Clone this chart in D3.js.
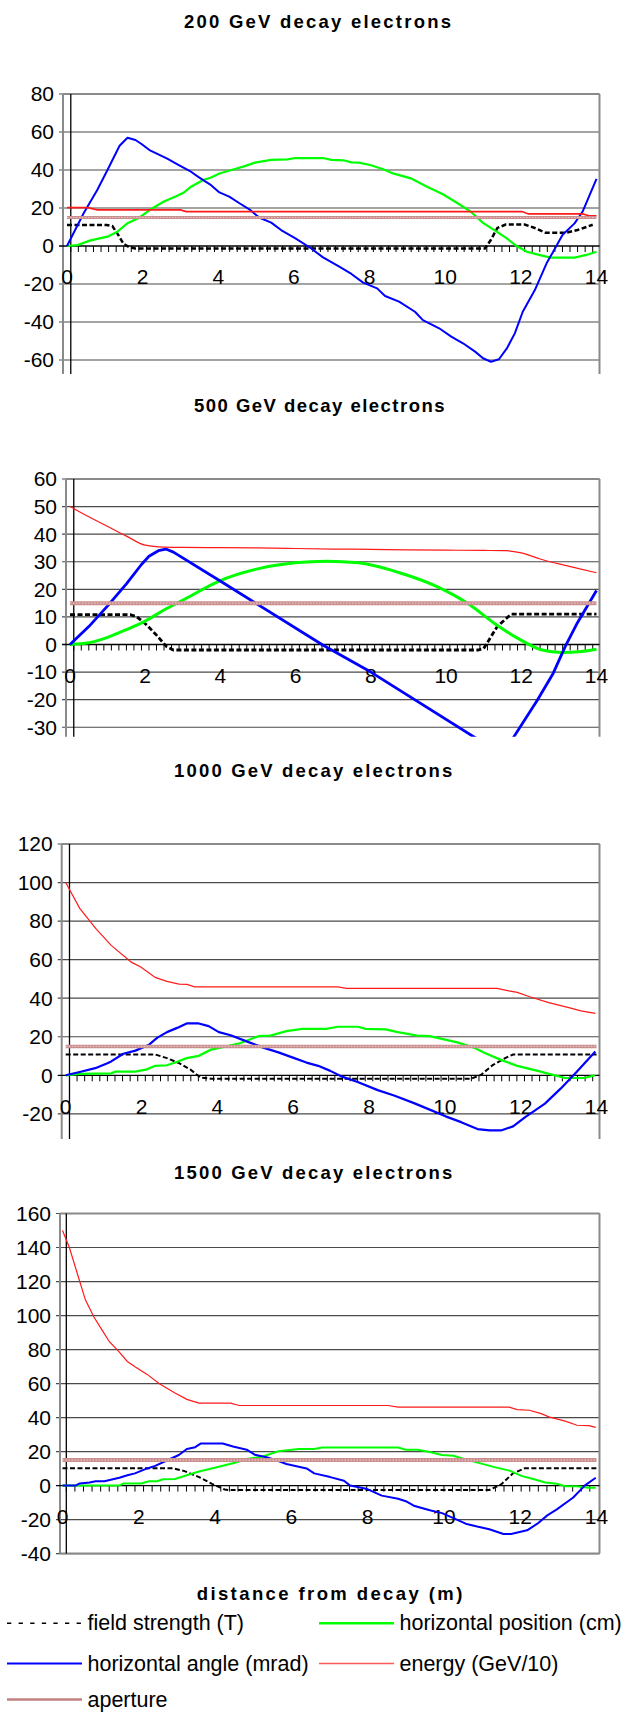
<!DOCTYPE html>
<html>
<head>
<meta charset="utf-8">
<script src="https://cdn.jsdelivr.net/npm/d3@7"></script>
<style>
body { margin: 0; background: #fff; overflow: hidden; }
svg { display: block; }
text { font-family: "Liberation Sans", Arial, sans-serif; fill: #000; }
</style>
</head>
<body>
<svg id="chart" width="624" height="1712"></svg>
<script>
// ---- data ----
const chartTitles = ["200 GeV decay electrons", "500 GeV decay electrons",
                     "1000 GeV decay electrons", "1500 GeV decay electrons"];
const xTitle = "distance from decay (m)";
const seriesNames = ["field strength (T)", "horizontal position (cm)",
                     "horizontal angle (mrad)", "energy (GeV/10)", "aperture"];
const xLabels = [0, 2, 4, 6, 8, 10, 12, 14];
const apertureLevel = 15;

const yTicks200 = [-60, -40, -20, 0, 20, 40, 60, 80];
const yTicks500 = [-30, -20, -10, 0, 10, 20, 30, 40, 50, 60];
const yTicks1000 = [-20, 0, 20, 40, 60, 80, 100, 120];
const yTicks1500 = [-40, -20, 0, 20, 40, 60, 80, 100, 120, 140, 160];

// 200 GeV
const field200 = [[0,11],[1.05,11],[1.2,10.5],[1.35,6],[1.5,1],[1.65,-0.6],[1.8,-1.3],[11.05,-1.3],[11.2,3],[11.38,9.5],[11.6,11.3],[12.1,11.3],[12.35,9.6],[12.65,7],[13.2,7],[13.5,8.4],[13.9,11.2]];
const position200 = [[0,0],[0.28,0.5],[0.6,2.8],[1.07,4.9],[1.33,7.5],[1.6,12],[1.92,15],[2.23,19.5],[2.55,23.3],[2.87,26],[3.08,28],[3.28,31.2],[3.6,34.7],[3.81,36],[4.03,38.2],[4.35,40],[4.66,41.8],[4.97,43.9],[5.4,45.3],[5.83,45.6],[6.04,46.3],[6.77,46.3],[6.99,45.3],[7.31,45.1],[7.52,44],[7.72,43.9],[8.04,42.5],[8.36,40.4],[8.62,38.2],[9.09,35.6],[9.52,31.2],[9.94,27.2],[10.36,22.1],[10.68,18],[10.99,12.3],[11.32,8.1],[11.63,4],[11.89,0],[12.16,-3],[12.48,-4.7],[12.79,-6.1],[13.42,-6.1],[13.73,-4.7],[14,-3]];
const angle200 = [[0,0],[0.44,17.2],[0.8,29.5],[1.07,40],[1.39,52.8],[1.6,57],[1.81,55.8],[1.97,53.7],[2.18,50.5],[2.65,46],[2.92,43],[3.24,39.6],[3.5,36],[3.81,32],[4.03,28.2],[4.29,26],[4.56,22.5],[4.82,19.3],[5.08,15],[5.4,12.3],[5.66,8.4],[6.04,4],[6.45,-1.2],[6.77,-6],[7.2,-10.9],[7.52,-14.7],[7.83,-19.3],[8.2,-22.3],[8.41,-26.3],[8.78,-29.3],[9.2,-34.6],[9.41,-39],[9.84,-43.3],[10.16,-47.7],[10.47,-51.2],[10.79,-55.6],[11,-59.1],[11.21,-60.9],[11.42,-59.6],[11.63,-53.9],[11.84,-46],[12.05,-34.6],[12.37,-23.2],[12.68,-9.1],[12.84,-3.5],[13.1,5.8],[13.42,11.9],[13.63,18],[14,35.3]];
const energy200 = [[0,20.2],[0.55,20.2],[0.8,19],[3,19],[3.15,18.1],[12.03,18.1],[12.2,16.9],[13.63,16.9],[13.8,15.9],[14,15.9]];

// 500 GeV
const field500 = [[0,10.8],[1.6,10.8],[1.77,10.1],[2.04,7.1],[2.3,3.4],[2.57,-0.8],[2.75,-2],[10.85,-2],[11,-1.5],[11.36,6.5],[11.73,11],[14,11]];
const position500 = [[0,0],[0.5,0.6],[1,2.6],[1.5,5.4],[2,8.5],[2.5,12.5],[3.06,16.5],[3.95,22.9],[5.02,27.5],[5.98,29.6],[6.82,30.2],[7.67,29.6],[8.72,26.2],[9.79,20.8],[10.63,14.4],[11.27,7.8],[11.9,2.3],[12.53,-1.9],[13.06,-2.9],[13.6,-2.5],[14,-1.7]];
const angle500 = [[0,0],[0.5,6.5],[1,14],[1.5,22],[1.9,29],[2.1,32],[2.35,34],[2.55,34.6],[2.75,33.5],[4.08,22.3],[6.72,-0.2],[8,-10],[10.8,-34],[11.2,-37.5],[11.45,-39],[11.65,-37],[11.8,-33.5],[12.43,-20.1],[12.85,-10.4],[13.17,-0.7],[13.49,7.8],[14,19.6]];
const energy500 = [[0,50],[0.5,46.3],[1,42.8],[1.5,39.3],[2,36],[2.5,35.3],[3,35.2],[4,35.1],[5,35],[6,34.8],[7,34.6],[8,34.5],[9,34.3],[10,34.2],[11,34.1],[11.6,34],[12,33.2],[12.5,31],[13,29.2],[13.5,27.6],[14,26]];

// 1000 GeV
const field1000 = [[0,10.8],[2.36,10.8],[2.67,8.9],[2.99,6.3],[3.3,2.8],[3.56,-1.2],[3.83,-1.75],[10.7,-1.75],[10.95,0.2],[11.27,5.4],[11.59,8.9],[11.8,10.8],[14,10.8]];
const position1000 = [[0,0],[0.37,0.7],[1.2,1],[1.31,1.9],[1.84,1.9],[2.14,3.1],[2.36,4.9],[2.67,5.2],[2.89,6.6],[3.19,8.9],[3.51,10.1],[3.83,13.3],[4.24,15],[4.56,16.4],[5.09,20.3],[5.4,20.6],[5.82,22.9],[6.24,24.1],[6.87,24.1],[7.18,25.2],[7.71,25.2],[7.91,24.1],[8.44,23.8],[8.76,22.4],[9.28,20.6],[9.6,20.3],[10.33,17.1],[10.75,14.5],[11.07,11.5],[11.48,8],[11.91,4.9],[12.53,1.9],[12.85,0.2],[13.17,-1.4],[13.68,-1.4],[13.96,0]];
const angle1000 = [[0,0],[0.37,1.7],[0.78,3.7],[1.1,6.3],[1.2,7.2],[1.52,11.2],[1.84,12.8],[2.2,15.9],[2.41,19.4],[2.67,22.4],[2.94,24.6],[3.19,26.9],[3.51,26.9],[3.77,25.5],[4.04,22.4],[4.35,20.8],[4.77,17.6],[5.19,14.5],[5.61,11.9],[6.03,8.9],[6.35,6.6],[6.66,4.9],[6.98,2.3],[7.29,-0.7],[7.7,-3.5],[8.23,-7.7],[8.66,-10.5],[9.17,-14.3],[9.6,-17.8],[10.02,-21.3],[10.43,-24.3],[10.86,-27.9],[11.18,-28.6],[11.48,-28.6],[11.8,-26.5],[12.12,-21.7],[12.64,-14.7],[13.06,-6.8],[13.48,1.9],[13.97,12.4]];
const energy1000 = [[0,100],[0.37,86.6],[0.79,76.2],[1.2,67.4],[1.73,58.7],[1.99,56.1],[2.36,50.8],[2.67,48.7],[2.99,47.3],[3.2,47.2],[3.4,45.9],[7.18,45.9],[7.4,45.1],[11.38,45.1],[11.69,43.8],[11.91,43],[12.22,40.9],[12.74,37.7],[13.27,35.1],[13.59,33.4],[13.97,32.1]];

// 1500 GeV
const field1500 = [[0,10.2],[2.9,10.2],[3.2,8.5],[3.58,5],[3.92,1],[4.25,-2.3],[4.36,-2.6],[11.19,-2.6],[11.5,0.7],[11.81,7.2],[12.12,10.2],[14,10.2]];
const position1500 = [[0,0],[1.49,0],[1.6,1.3],[2.06,1.3],[2.27,2.6],[2.48,2.6],[2.64,3.7],[2.95,3.9],[3.26,6.1],[3.58,8.3],[3.99,10.5],[4.52,13.4],[4.83,15.6],[5.25,17.1],[5.66,20.2],[6.19,21.5],[6.6,21.5],[6.81,22.4],[8.8,22.4],[9,21.1],[9.31,21.1],[9.63,19.7],[9.95,18],[10.25,17.5],[10.57,15.4],[11.3,11],[11.72,8.8],[12.03,5.7],[12.34,3.9],[12.66,1.8],[12.96,1.1],[13.18,-0.4],[13.49,-0.4],[13.8,-1.3],[13.98,-1.3]];
const angle1500 = [[0,0],[0.34,0],[0.45,1.3],[0.71,1.8],[0.87,2.6],[1.1,2.6],[1.49,4.6],[1.7,6.1],[1.9,7.2],[2.22,10.1],[2.43,11.6],[2.75,14.9],[3.05,18],[3.26,21.5],[3.48,22.6],[3.63,24.8],[4.2,24.8],[4.47,23],[4.83,21.1],[5.04,18.2],[5.35,16.7],[5.66,14.5],[5.87,12.7],[6.4,10.1],[6.6,7.2],[7.02,5],[7.38,2.9],[7.54,0],[7.96,-1.8],[8.37,-5.9],[8.8,-7.7],[9,-9.2],[9.21,-11.8],[9.63,-14.5],[9.95,-16.2],[10.25,-19.1],[10.57,-22.4],[10.87,-24.1],[11.19,-25.7],[11.56,-28.5],[11.76,-28.5],[12.18,-26.3],[12.45,-22.4],[12.71,-17.5],[12.96,-14],[13.39,-7],[13.69,0],[13.98,4.6]];
const energy1500 = [[0,150],[0.18,140],[0.39,124.6],[0.6,109.2],[0.82,99.3],[1.03,91.7],[1.23,84.6],[1.49,78.5],[1.7,73],[1.91,69.7],[2.22,65.4],[2.54,59.9],[2.95,54.4],[3.26,50.7],[3.58,48.5],[4.41,48.5],[4.63,47.1],[8.53,47.1],[8.8,46.1],[11.71,46.1],[11.92,44.7],[12.24,44.3],[12.55,42.3],[12.75,40.4],[13.18,37.9],[13.49,35.5],[13.8,35.3],[13.98,34.2]];

const panels = [
    {title: chartTitles[0], yTicks: yTicks200, field: field200, position: position200, angle: angle200, energy: energy200},
    {title: chartTitles[1], yTicks: yTicks500, field: field500, position: position500, angle: angle500, energy: energy500},
    {title: chartTitles[2], yTicks: yTicks1000, field: field1000, position: position1000, angle: angle1000, energy: energy1000},
    {title: chartTitles[3], yTicks: yTicks1500, field: field1500, position: position1500, angle: angle1500, energy: energy1500}
];

// ---- layout (pixel boxes of the four stacked plots) ----
const right = 599.5, x14 = 596.5;
const layout = [
    {top: 94, zero: 246, bottom: 374, left: 63, x0: 67, frame: false, titleY: 27.5, titleX: [184, 451], tickStep: 0.2, smooth: false,
     w: {field: 2.5, position: 2.2, angle: 2, energy: 1.6, aperture: 3}},
    {top: 479, zero: 644.5, bottom: 736.7, left: 66, x0: 70, frame: false, titleY: 411.5, titleX: [194, 444.5], tickStep: 0.2, smooth: true,
     w: {field: 2.8, position: 3, angle: 2.8, energy: 1.2, aperture: 4}},
    {top: 844, zero: 1075.3, bottom: 1139, left: 61.7, x0: 65.7, frame: false, titleY: 776.5, titleX: [174, 452.4], tickStep: 0.2, smooth: false,
     w: {field: 2, position: 2.2, angle: 2.2, energy: 1.2, aperture: 3.5}},
    {top: 1213.5, zero: 1485.6, bottom: 1553.5, left: 60, x0: 62.5, frame: true, titleY: 1178.5, titleX: [174, 452.4], tickStep: 0.225, smooth: false,
     w: {field: 2, position: 2, angle: 2, energy: 1.2, aperture: 4}}
];

const svg = d3.select("#chart");

panels.forEach((p, i) => {
    const lay = layout[i];
    const x = d3.scaleLinear().domain([0, 14]).range([lay.x0, x14]);
    const y = d3.scaleLinear().domain([0, d3.max(p.yTicks)]).range([lay.zero, lay.top]);
    const g = svg.append("g");

    // title
    g.append("text")
        .attr("x", lay.titleX[0]).attr("y", lay.titleY)
        .attr("textLength", lay.titleX[1] - lay.titleX[0])
        .attr("lengthAdjust", "spacing")
        .style("font-size", "18.5px").style("font-weight", "bold")
        .text(p.title);

    // gridlines
    g.selectAll("line.grid").data(p.yTicks.filter(d => d !== 0)).join("line")
        .attr("class", "grid")
        .attr("x1", lay.left - 4).attr("x2", right)
        .attr("y1", d => y(d)).attr("y2", d => y(d))
        .attr("stroke", "#4a4a4a").attr("stroke-width", 1.2);

    // plot frame (gray), bottom edge only where the plot isn't cut off
    const frame = g.append("g").attr("stroke", "#8a8a8a").attr("stroke-width", 2).attr("fill", "none");
    frame.append("line").attr("x1", lay.left).attr("x2", right).attr("y1", lay.top).attr("y2", lay.top);
    frame.append("line").attr("x1", lay.left).attr("x2", lay.left).attr("y1", lay.top).attr("y2", lay.bottom);
    frame.append("line").attr("x1", right).attr("x2", right).attr("y1", lay.top).attr("y2", lay.bottom);
    if (lay.frame) {
        frame.append("line").attr("x1", lay.left).attr("x2", right).attr("y1", lay.bottom).attr("y2", lay.bottom);
    }

    // value axis line and category axis line with its little ticks
    g.append("line")
        .attr("x1", x(0.1)).attr("x2", x(0.1)).attr("y1", lay.top).attr("y2", lay.bottom)
        .attr("stroke", "#000").attr("stroke-width", 1.3);
    g.append("line")
        .attr("x1", lay.left - 4).attr("x2", right).attr("y1", y(0)).attr("y2", y(0))
        .attr("stroke", "#000").attr("stroke-width", 1.3);
    g.selectAll("line.minor").data(d3.range(0.1, 14, lay.tickStep)).join("line")
        .attr("class", "minor")
        .attr("x1", d => x(d)).attr("x2", d => x(d))
        .attr("y1", y(0)).attr("y2", y(0) + 6)
        .attr("stroke", "#000").attr("stroke-width", 1);

    // tick labels
    g.selectAll("text.ylab").data(p.yTicks).join("text")
        .attr("class", "ylab")
        .attr("x", lay.left - 9).attr("y", d => y(d)).attr("dy", "0.35em")
        .attr("text-anchor", "end").style("font-size", "21px")
        .text(d => d);
    g.selectAll("text.xlab").data(xLabels).join("text")
        .attr("class", "xlab")
        .attr("x", d => x(d)).attr("y", y(0) + 31).attr("dy", "0.35em")
        .attr("text-anchor", "middle").style("font-size", "21px")
        .text(d => d);

    // series
    svg.append("clipPath").attr("id", "clip" + i)
        .append("rect")
        .attr("x", lay.left).attr("y", lay.top)
        .attr("width", right - lay.left).attr("height", lay.bottom - lay.top);
    const plot = g.append("g").attr("clip-path", `url(#clip${i})`);
    const line = d3.line().x(d => x(d[0])).y(d => y(d[1]));
    const smoothLine = lay.smooth ? d3.line().x(d => x(d[0])).y(d => y(d[1])).curve(d3.curveMonotoneX) : line;

    plot.append("path").attr("d", line(p.field))
        .attr("fill", "none").attr("stroke", "#000").attr("stroke-width", lay.w.field)
        .attr("stroke-dasharray", "5 2.5");
    plot.append("path").attr("d", smoothLine(p.position))
        .attr("fill", "none").attr("stroke", "#00ff00").attr("stroke-width", lay.w.position);
    plot.append("path").attr("d", line(p.angle))
        .attr("fill", "none").attr("stroke", "#0000ff").attr("stroke-width", lay.w.angle)
        .attr("stroke-linejoin", "round");
    plot.append("path").attr("d", smoothLine(p.energy))
        .attr("fill", "none").attr("stroke", "#ff1a1a").attr("stroke-width", lay.w.energy);
    const ap = [[0, apertureLevel], [14, apertureLevel]];
    plot.append("path").attr("d", line(ap))
        .attr("fill", "none").attr("stroke", "#c98f8f").attr("stroke-width", lay.w.aperture);
    plot.append("path").attr("d", line(ap))
        .attr("fill", "none").attr("stroke", "#ebc2c2").attr("stroke-width", lay.w.aperture * 0.35)
        .attr("stroke-dasharray", "1.5 1.5");
});

// x axis title
svg.append("text")
    .attr("x", 196.7).attr("y", 1599.5)
    .attr("textLength", 265.6).attr("lengthAdjust", "spacing")
    .style("font-size", "18.5px").style("font-weight", "bold")
    .text(xTitle);

// legend
const legendPos = [[7, 1623.3], [319, 1623.3], [7, 1663.5], [319, 1663.5], [7, 1699.5]];
const legendStyle = [
    {stroke: "#000", width: 1.5, dash: "4.3 7.3"},
    {stroke: "#00ff00", width: 2.5, dash: null},
    {stroke: "#0000ff", width: 2, dash: null},
    {stroke: "#ff5a5a", width: 1.6, dash: null},
    {stroke: "#c08080", width: 2.5, dash: null}
];
const legend = svg.append("g").selectAll("g").data(seriesNames).join("g")
    .attr("transform", (d, i) => `translate(${legendPos[i][0]},${legendPos[i][1]})`);
legend.append("line")
    .attr("x1", 0).attr("x2", 75).attr("y1", 0).attr("y2", 0)
    .attr("stroke", (d, i) => legendStyle[i].stroke)
    .attr("stroke-width", (d, i) => legendStyle[i].width)
    .attr("stroke-dasharray", (d, i) => legendStyle[i].dash);
legend.append("text")
    .attr("x", 80.5).attr("y", 0).attr("dy", "0.33em")
    .style("font-size", "21.5px")
    .text(d => d);
</script>
</body>
</html>
